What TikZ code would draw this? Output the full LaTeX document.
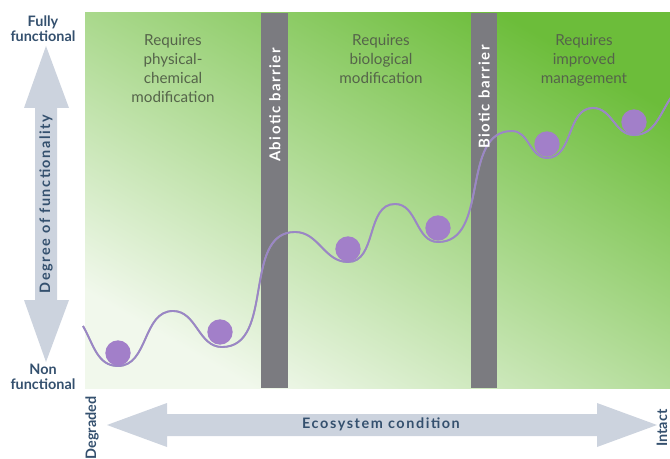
\documentclass[tikz,border=0pt]{standalone}
\usepackage{fontspec}
\setmainfont{Lato}
\newfontfamily\spacedfont[LetterSpace=11]{Lato}
\newfontfamily\barfont[LetterSpace=10]{Lato}
\definecolor{navy}{HTML}{34506E}
\definecolor{leafdark}{HTML}{55644A}
\definecolor{barriergray}{HTML}{7B7B80}
\definecolor{arrowfill}{HTML}{CCD3DE}
\definecolor{ballpurple}{HTML}{A27FC9}
\definecolor{curvepurple}{HTML}{9A86C6}
\definecolor{greentop}{HTML}{6CBD3A}
\definecolor{greenmid}{HTML}{BCDE9C}
\definecolor{greenpale}{HTML}{F1F8EC}
\tikzset{
  axislbl/.style={font=\bfseries\fontsize{10.8}{11.4}\selectfont, text=navy, align=center, inner sep=0pt},
  axistitle/.style={font=\spacedfont\bfseries\fontsize{10.8}{12}\selectfont, text=navy, inner sep=0pt},
  zonelbl/.style={font=\fontsize{11.4}{14.3}\selectfont, text=leafdark, align=center, inner sep=0pt},
  barrierlbl/.style={font=\barfont\bfseries\fontsize{11.2}{12}\selectfont, text=white, rotate=90, inner sep=0pt},
  barrier/.style={fill=barriergray},
  blockarrow/.style={fill=arrowfill},
  ball/.style={circle, fill=ballpurple, minimum size=19pt, inner sep=0pt},
}
\begin{document}
\begin{tikzpicture}[x=0.75pt, y=-0.75pt]
\useasboundingbox (0,0) rectangle (670,459);
\clip (0,0) rectangle (670,459);

% green field, pale at lower left and deep green at upper right
\shade[shading=axis, top color=greentop, middle color=greenmid, bottom color=greenpale, shading angle=-30]
  (85,13) rectangle (670,388);

% the two barriers
\fill[barrier] (261,13) rectangle (288,388);
\fill[barrier] (471,13) rectangle (497,388);

% functionality landscape
\coordinate (c0) at (83,326);
\coordinate (c1) at (118,366);
\coordinate (c2) at (173,311);
\coordinate (c3) at (222,347);
\coordinate (c4) at (295,232);
\coordinate (c5) at (348,262);
\coordinate (c6) at (395,204);
\coordinate (c7) at (438,242);
\coordinate (c8) at (512,131);
\coordinate (c9) at (547,158);
\coordinate (c10) at (593,108);
\coordinate (c11) at (634,135);
\coordinate (c12) at (672,96);
\foreach \off/\col/\w in {1.4/gray!70/1.3, 0/curvepurple/1.4}{
  \draw[\col, line width=\w pt, yshift=-\off pt]
    (c0) to[out=-60,in=180] (c1) to[out=0,in=180] (c2) to[out=0,in=180] (c3)
    to[out=0,in=180] (c4) to[out=0,in=180] (c5) to[out=0,in=180] (c6)
    to[out=0,in=180] (c7) to[out=0,in=180] (c8) to[out=0,in=180] (c9)
    to[out=0,in=180] (c10) to[out=0,in=180] (c11) to[out=0,in=235] (c12);
}

% states resting in the valleys
\node[ball] (b1) at (118,353) {};
\node[ball] (b2) at (220,332) {};
\node[ball] (b3) at (348,249) {};
\node[ball] (b4) at (438,228) {};
\node[ball] (b5) at (547,144) {};
\node[ball] (b6) at (634,122) {};

% zone captions
\node[zonelbl, anchor=north] (z1) at (173,34) {Requires\\physical-\\chemical\\modification};
\node[zonelbl, anchor=north] (z2) at (381,34) {Requires\\biological\\modification};
\node[zonelbl, anchor=north] (z3) at (584,34) {Requires\\improved\\management};

% barrier captions
\node[barrierlbl] (ab) at (275,105) {Abiotic barrier};
\node[barrierlbl] (bb) at (484,97) {Biotic barrier};

% vertical double arrow: degree of functionality
\fill[blockarrow] (46,46) -- (69,108) -- (57,108) -- (57,300) -- (69,300) -- (46,362)
  -- (24,300) -- (35,300) -- (35,108) -- (24,108) -- cycle;
\node[axistitle, rotate=90] (deg) at (46,204) {Degree of functionality};
\node[axislbl] (full) at (43,29) {Fully\\functional};
\node[axislbl] (non) at (43,377) {Non\\functional};

% horizontal double arrow: ecosystem condition
\fill[blockarrow] (107,425) -- (167,403) -- (167,414) -- (597,414) -- (597,403) -- (657,425)
  -- (597,447) -- (597,436) -- (167,436) -- (167,447) -- cycle;
\node[axistitle] (eco) at (381,424) {Ecosystem condition};
\node[axislbl, rotate=90] (deg2) at (92,428) {Degraded};
\node[axislbl, rotate=90] (intact) at (662,428) {Intact};
\end{tikzpicture}
\end{document}
